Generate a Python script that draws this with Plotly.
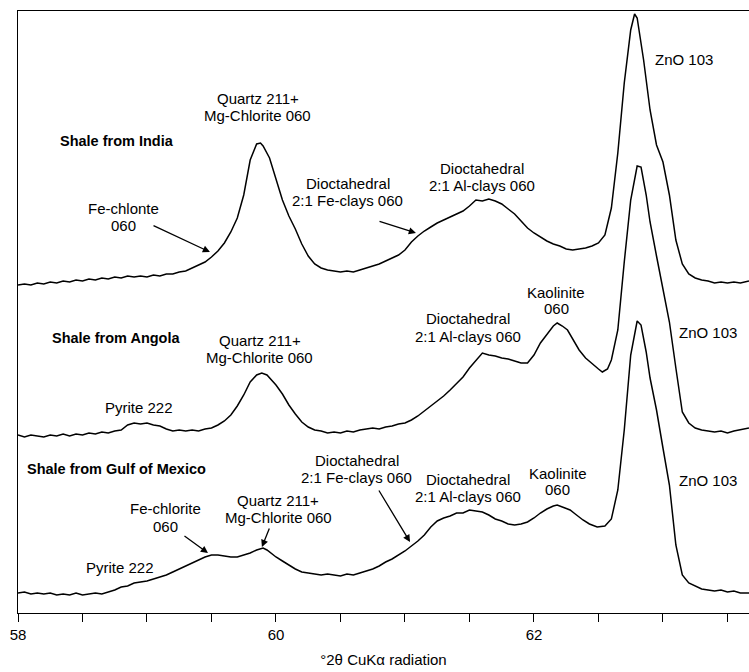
import plotly.graph_objects as go

# ---------------- data ----------------
# x: degrees 2-theta ; y: intensity (arbitrary units, offset stacked as drawn)
india_x = [58.00, 58.05, 58.10, 58.15, 58.20, 58.25, 58.30, 58.35, 58.40, 58.45, 58.50, 58.55, 58.60, 58.65,
           58.70, 58.75, 58.80, 58.85, 58.90, 58.95, 59.00, 59.05, 59.10, 59.15, 59.20, 59.25, 59.30, 59.35,
           59.40, 59.45, 59.50, 59.55, 59.60, 59.65, 59.70, 59.75, 59.80, 59.85, 59.88, 59.90, 59.95, 60.00,
           60.05, 60.10, 60.15, 60.20, 60.25, 60.30, 60.35, 60.40, 60.45, 60.50, 60.55, 60.60, 60.65, 60.70,
           60.75, 60.80, 60.85, 60.90, 60.95, 61.00, 61.05, 61.10, 61.15, 61.20, 61.25, 61.30, 61.35, 61.40,
           61.45, 61.50, 61.55, 61.60, 61.65, 61.70, 61.75, 61.80, 61.85, 61.90, 61.95, 62.00, 62.05, 62.10,
           62.15, 62.20, 62.25, 62.30, 62.35, 62.40, 62.45, 62.50, 62.55, 62.60, 62.65, 62.70, 62.75, 62.78,
           62.80, 62.85, 62.90, 62.95, 63.00, 63.05, 63.10, 63.15, 63.20, 63.25, 63.30, 63.35, 63.40, 63.45,
           63.50, 63.55, 63.60, 63.667]
india_y = [328, 329, 328, 330, 329, 331, 330, 332, 331, 333, 332, 334, 333, 335,
           334, 336, 335, 337, 336, 337, 336, 338, 337, 339, 339, 341, 342, 345,
           348, 351, 356, 362, 370, 381, 395, 418, 453, 469, 470, 467, 455, 433,
           413, 397, 384, 369, 357, 349, 345, 343, 342, 341, 342, 341, 343, 345,
           347, 349, 352, 355, 358, 363, 371, 377, 382, 386, 390, 393, 396, 399,
           402, 407, 413, 412, 414, 412, 409, 404, 399, 392, 385, 380, 376, 372,
           369, 367, 364, 363, 364, 365, 367, 370, 378, 405, 460, 530, 583, 599,
           595, 553, 503, 468, 451, 418, 373, 349, 339, 335, 333, 332, 330, 331,
           330, 331, 330, 332]

angola_x = [58.00, 58.05, 58.10, 58.15, 58.20, 58.25, 58.30, 58.35, 58.40, 58.45, 58.50, 58.55, 58.60, 58.65,
            58.70, 58.75, 58.80, 58.85, 58.90, 58.95, 59.00, 59.05, 59.10, 59.15, 59.20, 59.25, 59.30, 59.35,
            59.40, 59.45, 59.50, 59.55, 59.60, 59.65, 59.70, 59.75, 59.80, 59.85, 59.89, 59.93, 59.97, 60.00,
            60.05, 60.10, 60.15, 60.20, 60.25, 60.30, 60.35, 60.40, 60.45, 60.50, 60.55, 60.60, 60.65, 60.70,
            60.75, 60.80, 60.85, 60.90, 60.95, 61.00, 61.05, 61.10, 61.15, 61.20, 61.25, 61.30, 61.35, 61.40,
            61.45, 61.50, 61.55, 61.60, 61.65, 61.70, 61.75, 61.80, 61.85, 61.90, 61.95, 62.00, 62.05, 62.10,
            62.15, 62.18, 62.22, 62.26, 62.30, 62.35, 62.40, 62.45, 62.50, 62.53, 62.57, 62.60, 62.65, 62.70,
            62.75, 62.80, 62.83, 62.87, 62.90, 62.95, 63.00, 63.05, 63.10, 63.15, 63.20, 63.25, 63.30, 63.35,
            63.40, 63.45, 63.50, 63.55, 63.60, 63.667]
angola_y = [178, 176, 178, 177, 176, 178, 177, 179, 177, 179, 178, 180, 179, 181,
            180, 182, 183, 188, 190, 189, 190, 188, 187, 184, 182, 183, 182, 183,
            182, 184, 185, 188, 192, 198, 207, 218, 231, 238, 240, 238, 232, 228,
            219, 208, 199, 191, 186, 183, 182, 180, 181, 180, 182, 181, 183, 184,
            185, 184, 186, 187, 189, 190, 193, 197, 202, 207, 212, 217, 223, 229,
            236, 245, 253, 260, 258, 257, 255, 254, 252, 250, 250, 258, 270, 279,
            287, 290, 287, 283, 274, 263, 255, 249, 244, 241, 244, 253, 283, 351,
            413, 447, 446, 418, 391, 357, 325, 291, 245, 201, 190, 185, 183, 182,
            181, 182, 180, 182, 183, 185]

gulf_x = [58.00, 58.05, 58.10, 58.15, 58.20, 58.25, 58.30, 58.35, 58.40, 58.45, 58.50, 58.55, 58.60, 58.65,
          58.70, 58.75, 58.80, 58.85, 58.90, 58.95, 59.00, 59.05, 59.10, 59.15, 59.20, 59.25, 59.30, 59.35,
          59.40, 59.45, 59.50, 59.55, 59.60, 59.65, 59.70, 59.75, 59.80, 59.85, 59.90, 59.93, 59.97, 60.00,
          60.05, 60.10, 60.15, 60.20, 60.25, 60.30, 60.35, 60.40, 60.45, 60.50, 60.55, 60.60, 60.65, 60.70,
          60.75, 60.80, 60.85, 60.90, 60.95, 61.00, 61.05, 61.10, 61.15, 61.20, 61.25, 61.30, 61.35, 61.40,
          61.45, 61.50, 61.55, 61.60, 61.65, 61.70, 61.75, 61.80, 61.85, 61.90, 61.95, 62.00, 62.05, 62.10,
          62.15, 62.18, 62.22, 62.28, 62.32, 62.38, 62.43, 62.49, 62.55, 62.60, 62.65, 62.70, 62.75, 62.80,
          62.83, 62.87, 62.90, 62.95, 63.00, 63.05, 63.10, 63.15, 63.20, 63.25, 63.30, 63.35, 63.40, 63.45,
          63.50, 63.55, 63.60, 63.667]
gulf_y = [20, 21, 19, 20, 19, 20, 18, 19, 18, 20, 18, 19, 20, 19,
          21, 23, 26, 27, 30, 31, 32, 34, 36, 38, 41, 44, 47, 50,
          53, 56, 58, 58, 57, 56, 56, 58, 60, 63, 65, 63, 59, 56,
          52, 48, 44, 41, 40, 39, 38, 39, 38, 37, 39, 38, 40, 42,
          44, 47, 51, 54, 58, 62, 67, 72, 78, 86, 92, 95, 97, 100,
          100, 103, 102, 101, 98, 94, 92, 89, 88, 89, 91, 95, 100, 104,
          107, 108, 106, 103, 99, 93, 89, 86, 87, 94, 123, 183, 258, 292,
          288, 261, 235, 203, 165, 128, 68, 38, 30, 27, 24, 23, 22, 23,
          21, 22, 20, 20]

tick_vals = [58.0, 58.5, 59.0, 59.5, 60.0, 60.5, 61.0, 61.5, 62.0, 62.5, 63.0, 63.5]
tick_text = ["58", "", "", "", "60", "", "", "", "62", "", "", ""]

# ---------------- labels (text, x, y, anchor, bold) ----------------
labels = [
    ("Shale from India", 58.31, 472, "left", True),
    ("Quartz 211+", 59.86, 515, "center", False),
    ("Mg-Chlorite 060", 59.86, 498, "center", False),
    ("Fe-chlonte", 58.814, 405, "center", False),
    ("060", 58.814, 388, "center", False),
    ("Dioctahedral", 60.558, 430, "center", False),
    ("2:1 Fe-clays 060", 60.558, 413, "center", False),
    ("Dioctahedral", 61.597, 445, "center", False),
    ("2:1 Al-clays 060", 61.597, 428, "center", False),
    ("ZnO 103", 62.922, 554, "left", False),

    ("Shale from Angola", 58.248, 275, "left", True),
    ("Quartz 211+", 59.876, 273, "center", False),
    ("Mg-Chlorite 060", 59.876, 256, "center", False),
    ("Pyrite 222", 58.938, 206, "center", False),
    ("Dioctahedral", 61.488, 295, "center", False),
    ("2:1 Al-clays 060", 61.488, 277, "center", False),
    ("Kaolinite", 62.171, 321, "center", False),
    ("060", 62.171, 305, "center", False),
    ("ZnO 103", 63.109, 281, "left", False),

    ("Shale from Gulf of Mexico", 58.054, 144, "left", True),
    ("Dioctahedral", 60.628, 153, "center", False),
    ("2:1 Fe-clays 060", 60.628, 136, "center", False),
    ("Fe-chlorite", 59.14, 105, "center", False),
    ("060", 59.14, 87, "center", False),
    ("Quartz 211+", 60.016, 113, "center", False),
    ("Mg-Chlorite 060", 60.016, 96, "center", False),
    ("Pyrite 222", 58.791, 46, "center", False),
    ("Dioctahedral", 61.488, 134, "center", False),
    ("2:1 Al-clays 060", 61.488, 117, "center", False),
    ("Kaolinite", 62.186, 140, "center", False),
    ("060", 62.186, 124, "center", False),
    ("ZnO 103", 63.109, 133, "left", False),
]

# arrows: (tail x, tail y, head x, head y)
arrows = [
    (59.039, 388, 59.488, 361),
    (60.791, 392, 61.085, 380),
    (60.791, 124, 61.039, 71),
    (59.279, 78, 59.473, 60),
    (59.953, 86, 59.891, 66),
]

FONT = "Liberation Sans, Arial, Helvetica, sans-serif"

fig = go.Figure()
for xs, ys, name in [(india_x, india_y, "Shale from India"),
                     (angola_x, angola_y, "Shale from Angola"),
                     (gulf_x, gulf_y, "Shale from Gulf of Mexico")]:
    fig.add_trace(go.Scatter(x=xs, y=ys, mode="lines", name=name,
                             line=dict(color="black", width=1.5), showlegend=False,
                             hoverinfo="skip"))

annotations = []
for text, x, y, anchor, bold in labels:
    annotations.append(dict(
        x=x, y=y, xref="x", yref="y", text=f"<b>{text}</b>" if bold else text,
        showarrow=False, xanchor=anchor, yanchor="middle",
        font=dict(family=FONT, size=15 if not bold else 14.5, color="black")))
for tx, ty, hx, hy in arrows:
    annotations.append(dict(
        x=hx, y=hy, ax=tx, ay=ty, xref="x", yref="y", axref="x", ayref="y",
        text="", showarrow=True, arrowhead=2, arrowsize=1.1, arrowwidth=1.3,
        arrowcolor="black", standoff=0, startstandoff=0))

fig.update_layout(
    width=749, height=672,
    margin=dict(l=18, r=0, t=11, b=59),
    paper_bgcolor="white", plot_bgcolor="white",
    font=dict(family=FONT, size=15, color="black"),
    annotations=annotations,
    xaxis=dict(range=[58, 63.667], showgrid=False, zeroline=False,
               showline=True, linecolor="black", linewidth=1.3, mirror=True,
               ticks="outside", ticklen=8, tickwidth=1.3, tickcolor="black",
               tickvals=tick_vals, ticktext=tick_text,
               tickfont=dict(family=FONT, size=15, color="black"),
               title=dict(text="°2θ CuKα radiation", standoff=12,
                          font=dict(family=FONT, size=15, color="black"))),
    yaxis=dict(range=[0, 602], showgrid=False, zeroline=False,
               showline=True, linecolor="black", linewidth=1.3,
               showticklabels=False, ticks=""),
)

fig.write_html("out.html", config={"displayModeBar": False},
               post_script="document.body.style.margin='0';document.body.style.overflow='hidden';")
